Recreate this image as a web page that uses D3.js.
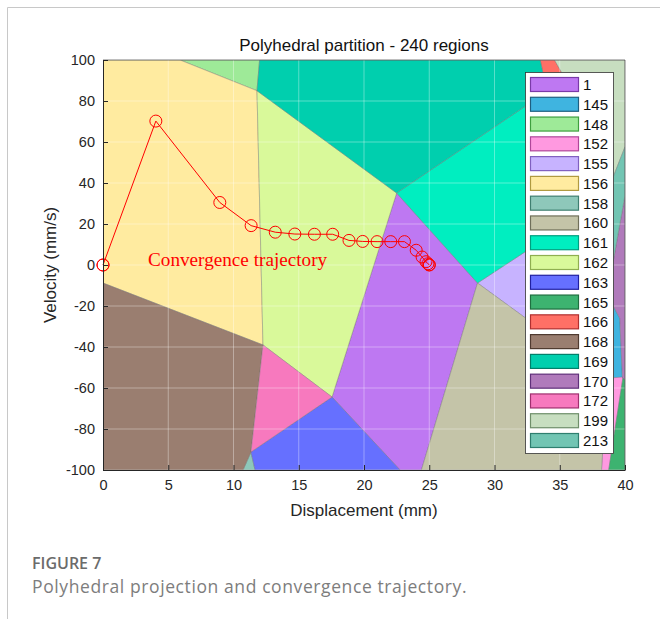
<!DOCTYPE html>
<html>
<head>
<meta charset="utf-8">
<script src="https://cdn.jsdelivr.net/npm/d3@7"></script>
<style>
  body { margin: 0; background: #fff; }
  svg { display: block; }
</style>
</head>
<body>
<svg id="chart" width="660" height="619"></svg>
<script>
// region ids shown in the legend, with their fill / edge colours
var regionIds = ['1', '145', '148', '152', '155', '156', '158', '160', '161', '162',
  '163', '165', '166', '168', '169', '170', '172', '199', '213'];
var regionFill = ['#be78f2', '#3fb4e0', '#9eea98', '#ff99e0', '#c7b3ff', '#ffeba0', '#8ec8ba', '#c4c4a8', '#00eec0', '#d9f99a',
  '#6670ff', '#3db370', '#ff7066', '#9a7e70', '#00cfae', '#b07abb', '#f779be', '#c7dec0', '#72c5b3'];
var regionEdge = ['#7a3aa8', '#1f5f80', '#3f9f3f', '#b0479a', '#8060c0', '#b09a40', '#3f7f70', '#70705a', '#009f7f', '#8faf50',
  '#2020a0', '#1f6f3f', '#b03030', '#4f3a30', '#007f6a', '#60307a', '#a0306f', '#6f8f6a', '#2f7f6f'];

// polygon vertices (displacement mm, velocity mm/s)
var regionPolys = {
  '156': [[0, 100], [5.9, 100], [11.8, 85], [12.26, -39], [0, -8.8]],
  '148': [[5.9, 100], [12.0, 100], [11.8, 85]],
  '169': [[12.0, 100], [33.5, 100], [34.0, 85], [32.6, 78.5], [22.5, 35.1], [11.8, 85]],
  '166': [[33.5, 100], [34.6, 100], [35.5, 90], [34.0, 85]],
  '199': [[34.6, 100], [40, 100], [40, 57.6], [39.1, 43], [37, 55], [35.5, 90]],
  '161': [[22.5, 35.1], [32.6, 78.5], [34.0, 85], [35.5, 90], [37, 55], [36.5, 20], [32.6, 7.5], [28.7, -8.8]],
  '155': [[28.7, -8.8], [32.6, 7.5], [36.5, 20], [36.5, -15], [32.3, -25.5]],
  '213': [[39.1, 43], [40, 57.6], [40, 34], [39.1, 2], [36.5, 20], [37, 55]],
  '170': [[39.1, 2], [40, 34], [40, -56], [39.8, -55], [39.6, -26], [39.1, -20], [36.5, -15], [36.5, 20]],
  '145': [[39.1, -20], [39.6, -26], [39.8, -55], [39.1, -55]],
  '160': [[28.7, -8.8], [32.3, -25.5], [36.5, -15], [39.1, -20], [39.1, -55], [38.4, -80], [38.2, -100], [24.4, -100]],
  '152': [[38.2, -100], [38.75, -100], [39.85, -54.6], [39.1, -55], [38.4, -80]],
  '165': [[38.75, -100], [40, -100], [40, -56], [39.85, -54.6]],
  '1': [[22.5, 35.1], [28.7, -8.8], [24.4, -100], [22.76, -100], [17.55, -64.4]],
  '162': [[11.8, 85], [22.5, 35.1], [17.55, -64.4], [12.26, -39]],
  '172': [[12.26, -39], [17.55, -64.4], [11.34, -91.2]],
  '168': [[0, -8.8], [12.26, -39], [11.34, -91.2], [10.73, -100], [0, -100]],
  '158': [[10.73, -100], [11.34, -91.2], [11.65, -100]],
  '163': [[11.34, -91.2], [17.55, -64.4], [22.76, -100], [11.65, -100]]
};

// convergence trajectory
var trajX = [0, 0, 4.05, 8.95, 11.35, 13.2, 14.7, 16.2, 17.6, 18.85, 19.9, 21.0, 22.05, 23.1, 24.0, 24.45, 24.75, 24.9, 25.0, 25.0];
var trajY = [0, 0, 70.2, 30.5, 19.2, 16.0, 15.1, 15.0, 15.0, 12.0, 11.5, 11.4, 11.4, 11.4, 7.2, 3.9, 1.6, 0.6, 0.1, 0];

var xTicks = [0, 5, 10, 15, 20, 25, 30, 35, 40];
var yTicks = [-100, -80, -60, -40, -20, 0, 20, 40, 60, 80, 100];

var svg = d3.select('#chart');
var x = d3.scaleLinear().domain([0, 40]).range([103, 625]);
var y = d3.scaleLinear().domain([-100, 100]).range([470, 60]);

// card frame
svg.append('path')
  .attr('d', 'M7.5,619 L7.5,7.5 L660,7.5')
  .attr('fill', 'none')
  .attr('stroke', '#c8c8c8');

svg.append('clipPath').attr('id', 'plotclip')
  .append('rect')
  .attr('x', x(0)).attr('y', y(100))
  .attr('width', x(40) - x(0)).attr('height', y(-100) - y(100));

var plot = svg.append('g').attr('clip-path', 'url(#plotclip)');

// regions
var line = d3.line().x(function(d) { return x(d[0]); }).y(function(d) { return y(d[1]); });
plot.selectAll('path.region')
  .data(Object.keys(regionPolys))
  .enter()
  .append('path')
  .attr('class', 'region')
  .attr('d', function(id) { return line(regionPolys[id]) + 'Z'; })
  .attr('fill', function(id) { return regionFill[regionIds.indexOf(id)]; })
  .attr('stroke', '#6a6a6a')
  .attr('stroke-opacity', 0.45)
  .attr('stroke-width', 0.8);

// grid on top of the patches
plot.selectAll('line.gx')
  .data(xTicks)
  .enter()
  .append('line')
  .attr('x1', function(d) { return x(d); }).attr('x2', function(d) { return x(d); })
  .attr('y1', y(100)).attr('y2', y(-100))
  .attr('stroke', '#fff').attr('stroke-opacity', 0.35);
plot.selectAll('line.gy')
  .data(yTicks)
  .enter()
  .append('line')
  .attr('y1', function(d) { return y(d); }).attr('y2', function(d) { return y(d); })
  .attr('x1', x(0)).attr('x2', x(40))
  .attr('stroke', '#fff').attr('stroke-opacity', 0.35);

// trajectory
var traj = trajX.map(function(v, i) { return [v, trajY[i]]; });
svg.append('path')
  .attr('d', line(traj))
  .attr('fill', 'none')
  .attr('stroke', '#ff0000')
  .attr('stroke-width', 1);
svg.selectAll('circle.pt')
  .data(traj)
  .enter()
  .append('circle')
  .attr('cx', function(d) { return x(d[0]); })
  .attr('cy', function(d) { return y(d[1]); })
  .attr('r', 6)
  .attr('fill', 'none')
  .attr('stroke', '#ff0000')
  .attr('stroke-width', 1);

svg.append('text')
  .attr('x', 148).attr('y', 266)
  .attr('font-family', '"Liberation Serif", "Times New Roman", serif')
  .attr('font-size', 19.2)
  .attr('fill', '#ff0000')
  .text('Convergence trajectory');

// axes
var axisFont = '"Liberation Sans", Arial, sans-serif';
var plain = function(d) { return String(d); };
var gx = svg.append('g').attr('transform', 'translate(0,' + y(-100) + ')')
  .call(d3.axisBottom(x).tickValues(xTicks).tickFormat(plain).tickSize(-5).tickPadding(10).tickSizeOuter(0));
var gy = svg.append('g').attr('transform', 'translate(' + x(0) + ',0)')
  .call(d3.axisLeft(y).tickValues(yTicks).tickFormat(plain).tickSize(-5).tickPadding(8).tickSizeOuter(0));
[gx, gy].forEach(function(g) {
  g.selectAll('path, line').attr('stroke', '#262626');
  g.selectAll('text').attr('fill', '#262626').attr('font-size', 14.5).attr('font-family', axisFont);
});
// box top / right
svg.append('path')
  .attr('d', 'M' + x(0) + ',' + y(100) + 'H' + x(40) + 'V' + y(-100))
  .attr('fill', 'none').attr('stroke', '#262626').attr('stroke-opacity', 0.6);

svg.append('text')
  .attr('x', 364).attr('y', 51)
  .attr('text-anchor', 'middle')
  .attr('font-family', axisFont).attr('font-size', 17).attr('fill', '#111')
  .text('Polyhedral partition - 240 regions');
svg.append('text')
  .attr('x', 364).attr('y', 516)
  .attr('text-anchor', 'middle')
  .attr('font-family', axisFont).attr('font-size', 17).attr('fill', '#262626')
  .text('Displacement (mm)');
svg.append('text')
  .attr('transform', 'translate(56,265) rotate(-90)')
  .attr('text-anchor', 'middle')
  .attr('font-family', axisFont).attr('font-size', 17).attr('fill', '#262626')
  .text('Velocity (mm/s)');

// legend
var legend = svg.append('g');
legend.append('rect')
  .attr('x', 525.5).attr('y', 72.5).attr('width', 88).attr('height', 381)
  .attr('fill', '#fff').attr('stroke', '#333').attr('stroke-width', 0.8);
var step = (440.5 - 84.5) / (regionIds.length - 1);
var item = legend.selectAll('g.item')
  .data(regionIds)
  .enter()
  .append('g')
  .attr('class', 'item')
  .attr('transform', function(d, i) { return 'translate(0,' + (84.5 + i * step) + ')'; });
item.append('rect')
  .attr('x', 530.5).attr('y', -7).attr('width', 48).attr('height', 14)
  .attr('fill', function(d, i) { return regionFill[i]; })
  .attr('stroke', function(d, i) { return regionEdge[i]; })
  .attr('stroke-width', 1.2);
item.append('text')
  .attr('x', 583).attr('y', 5.5)
  .attr('font-family', axisFont).attr('font-size', 15).attr('fill', '#111')
  .text(function(d) { return d; });

// caption
svg.append('text')
  .attr('x', 32).attr('y', 569)
  .attr('font-family', '"Open Sans", "Noto Sans", sans-serif')
  .attr('font-size', 16).attr('font-weight', 600).attr('fill', '#6b6b6b')
  .text('FIGURE 7');
svg.append('text')
  .attr('x', 32).attr('y', 593)
  .attr('font-family', '"Open Sans", "Noto Sans", sans-serif')
  .attr('font-size', 17.5).attr('letter-spacing', 0.6).attr('fill', '#7d7d7d')
  .text('Polyhedral projection and convergence trajectory.');
</script>
</body>
</html>
